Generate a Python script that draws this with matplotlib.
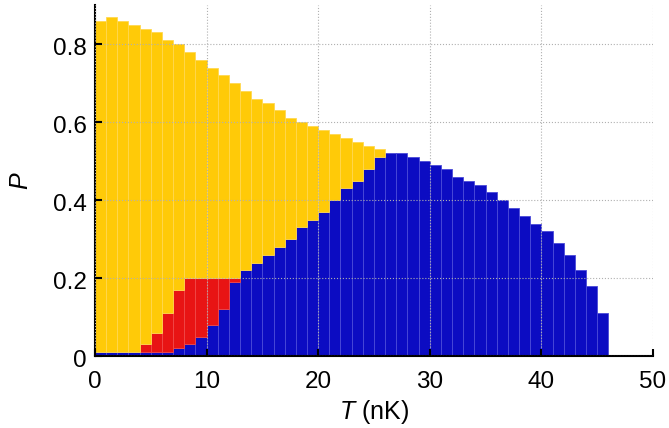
import numpy as np
import matplotlib
matplotlib.use("Agg")
import matplotlib.pyplot as plt
from matplotlib.transforms import ScaledTranslation

plt.rcParams['font.family'] = ['Liberation Sans', 'DejaVu Sans']
plt.rcParams['mathtext.fontset'] = 'custom'
plt.rcParams['mathtext.it'] = 'Liberation Sans:italic'
plt.rcParams['mathtext.rm'] = 'Liberation Sans'

# temperature bins (nK), left edges, width 1
T = np.arange(0, 46)

# blue phase (bottom layer)
p_blue = [0.01, 0.01, 0.01, 0.01, 0.01, 0.01, 0.01, 0.02, 0.03, 0.05,
          0.08, 0.12, 0.19, 0.22, 0.24, 0.26, 0.28, 0.30, 0.33, 0.35,
          0.37, 0.40, 0.43, 0.45, 0.48, 0.51, 0.52, 0.52, 0.51, 0.50,
          0.49, 0.48, 0.46, 0.45, 0.44, 0.42, 0.40, 0.38, 0.36, 0.34,
          0.32, 0.29, 0.26, 0.22, 0.18, 0.11]
# red phase (middle layer)
p_red = [0, 0, 0, 0, 0.02, 0.05, 0.10, 0.15, 0.17, 0.15,
         0.12, 0.08, 0.01] + [0] * 33
# yellow phase top (total height of the stack)
p_total = [0.86, 0.87, 0.86, 0.85, 0.84, 0.83, 0.81, 0.80, 0.78, 0.76,
           0.74, 0.72, 0.70, 0.68, 0.66, 0.65, 0.63, 0.61, 0.60, 0.59,
           0.58, 0.57, 0.56, 0.55, 0.54, 0.53]

p_blue = np.array(p_blue)
p_red = np.array(p_red)
n_y = len(p_total)
p_yellow = np.array(p_total) - p_blue[:n_y] - p_red[:n_y]

c_blue, c_red, c_yel = '#0c0cc2', '#e81414', '#ffca08'

fig = plt.figure(figsize=(6.69, 4.28), dpi=100)
ax = fig.add_axes([0.142, 0.168, 0.834, 0.820])

ax.bar(T, p_blue, width=1, align='edge', color=c_blue, edgecolor='#4a4ad8', lw=0.6)
m = p_red > 0
ax.bar(T[m], p_red[m], width=1, align='edge', bottom=p_blue[m],
       color=c_red, edgecolor='#f04848', lw=0.6)
ax.bar(T[:n_y], p_yellow, width=1, align='edge', bottom=p_blue[:n_y] + p_red[:n_y],
       color=c_yel, edgecolor='#ffd850', lw=0.6)

ax.set_xlim(0, 50)
ax.set_ylim(0, 0.9)
ax.set_xticks([0, 10, 20, 30, 40, 50])
ax.set_yticks([0, 0.2, 0.4, 0.6, 0.8])
ax.set_yticklabels(['0', '0.2', '0.4', '0.6', '0.8'])
ax.tick_params(direction='in', length=5, width=1.5, labelsize=17.5)
ax.tick_params(axis='x', pad=11)
ax.tick_params(axis='y', pad=6)
# MATLAB-style labels sit a touch below their ticks
off = ScaledTranslation(0, -2.5 / 100, fig.dpi_scale_trans)
for lab in ax.get_yticklabels():
    lab.set_transform(lab.get_transform() + off)
ax.grid(True, linestyle=':', color='#b0b0b0', lw=0.8)
ax.set_axisbelow(False)
for s in ['top', 'right']:
    ax.spines[s].set_visible(False)
for s in ['left', 'bottom']:
    ax.spines[s].set_linewidth(1.5)

ax.set_xlabel('$T$ (nK)', fontsize=18, labelpad=3)
ax.set_ylabel('$P$', fontsize=18, labelpad=14)

fig.savefig('out.png', dpi=100)
